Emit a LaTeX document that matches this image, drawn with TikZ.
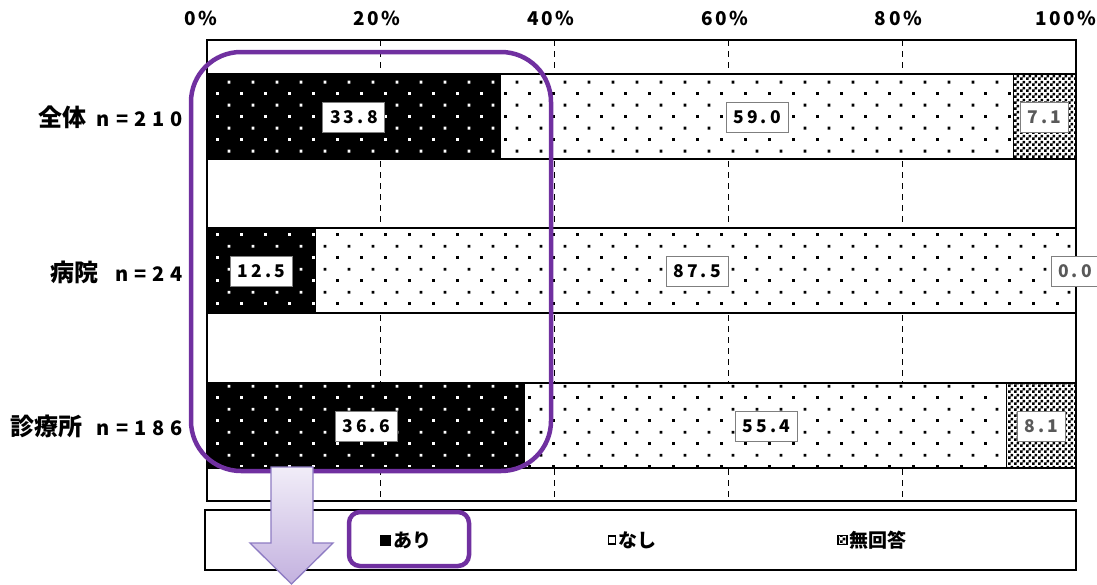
\documentclass[tikz,border=0pt]{standalone}
\usepackage{fontspec}
\usetikzlibrary{patterns}
\setmainfont{Noto Sans CJK JP}
\newfontfamily\axisF{Noto Sans CJK JP}[LetterSpace=14]
\newfontfamily\rowF{Noto Sans CJK JP}[LetterSpace=30]
\newfontfamily\valF{Noto Sans CJK JP}[LetterSpace=18]
\definecolor{hlpurple}{HTML}{7030A0}
\definecolor{arrowedge}{HTML}{8E7CC3}
\definecolor{arrowtop}{HTML}{F1EDF8}
\definecolor{arrowbot}{HTML}{C3B1DF}
\definecolor{lblgray}{HTML}{595959}
\definecolor{boxgray}{HTML}{7F7F7F}
\pgfdeclarepatternformonly{mydots}{\pgfpointorigin}{\pgfqpoint{24pt}{23.34pt}}{\pgfqpoint{24pt}{23.34pt}}{%
  \pgfpathrectangle{\pgfqpoint{0pt}{0pt}}{\pgfqpoint{2.9pt}{2.9pt}}%
  \pgfpathrectangle{\pgfqpoint{12pt}{11.67pt}}{\pgfqpoint{2.9pt}{2.9pt}}%
  \pgfusepath{fill}}
\pgfdeclarepatternformonly{mycheck}{\pgfpointorigin}{\pgfqpoint{6pt}{6pt}}{\pgfqpoint{6pt}{6pt}}{%
  \pgfpathrectangle{\pgfqpoint{0pt}{0pt}}{\pgfqpoint{3pt}{3pt}}%
  \pgfpathrectangle{\pgfqpoint{3pt}{3pt}}{\pgfqpoint{3pt}{3pt}}%
  \pgfusepath{fill}}
\tikzset{
  axl/.style={inner sep=0pt, font=\axisF\bfseries\fontsize{19}{19}\selectfont},
  rowl/.style={anchor=east, inner sep=0pt},
  val/.style={draw=boxgray, fill=white, line width=0.9pt, minimum height=30pt, inner sep=0pt,
    font=\valF\bfseries\fontsize{17.5}{17.5}\selectfont},
  val4/.style={val, minimum width=62pt},
  val3/.style={val, minimum width=48pt, text=lblgray},
  grid/.style={line width=1.1pt, dash pattern=on 6pt off 5pt},
  blackseg/.style={fill=black, postaction={pattern=mydots, pattern color=white}},
  dotseg/.style={fill=white, postaction={pattern=mydots, pattern color=black}},
  chkseg/.style={fill=white, postaction={pattern=mycheck, pattern color=black}},
  barline/.style={line width=1.6pt},
  legtext/.style={anchor=west, inner sep=0pt, font=\bfseries\fontsize{19}{19}\selectfont},
  hlbox/.style={draw=hlpurple, line width=4.5pt},
  cjkrow/.style={font=\bfseries\fontsize{24}{24}\selectfont},
}
\newcommand{\nlab}[1]{{\rowF\bfseries\fontsize{20}{20}\selectfont #1}}
\begin{document}
\begin{tikzpicture}[x=1pt,y=-1pt]
\useasboundingbox (0,0) rectangle (1097,584);
\fill[white] (0,0) rectangle (1097,584);
% axis labels
\node[axl] (a0) at (201,18) {0\%};
\node[axl] (a20) at (377,18) {20\%};
\node[axl] (a40) at (550.8,18) {40\%};
\node[axl] (a60) at (724.6,18) {60\%};
\node[axl] (a80) at (898.4,18) {80\%};
\node[axl] (a100) at (1066,18) {100\%};
% grid
\foreach \gx in {380.8,554.6,728.4,902.2} \draw[grid] (\gx,40) -- (\gx,501);
% bar 1
\path[blackseg] (207,74) rectangle (500.7,159);
\path[dotseg] (500.7,74) rectangle (1013.4,159);
\path[chkseg] (1013.4,74) rectangle (1076,159);
\draw[barline] (207,74) rectangle (1076,159);
\draw[line width=1.2pt] (1013.4,74) -- (1013.4,159);
% bar 2
\path[blackseg] (207,228) rectangle (315.6,313);
\path[dotseg] (315.6,228) rectangle (1076,313);
\draw[barline] (207,228) rectangle (1076,313);
% bar 3
\path[blackseg] (207,383) rectangle (525.1,468);
\path[dotseg] (525.1,383) rectangle (1006.5,468);
\path[chkseg] (1006.5,383) rectangle (1076,468);
\draw[barline] (207,383) rectangle (1076,468);
\draw[line width=1.2pt] (1006.5,383) -- (1006.5,468);
% plot frame
\draw[line width=2pt] (207,40) rectangle (1076,501);
% value labels
\node[val4] (v11) at (353.9,117) {33.8};
\node[val4] (v12) at (757.1,117) {59.0};
\node[val3] (v13) at (1044.7,117) {7.1};
\node[val4] (v21) at (261.3,271) {12.5};
\node[val4] (v22) at (697,271) {87.5};
\node[val3] (v23) at (1075,271) {0.0};
\node[val4] (v31) at (366,426) {36.6};
\node[val4] (v32) at (766.5,426) {55.4};
\node[val3] (v33) at (1041.2,426) {8.1};
% row labels
\node[rowl, cjkrow] (r1) at (183,117) {全体\hspace{10pt}\nlab{n=210}};
\node[rowl, cjkrow] (r2) at (183,272) {病院\hspace{17pt}\nlab{n=24}};
\node[rowl, cjkrow] (r3) at (183,426) {診療所\hspace{14pt}\nlab{n=186}};
% legend
\draw[line width=1.8pt] (205,510) rectangle (1076,570);
\fill[black] (380,534.5) rectangle (391,545.5);
\node[legtext] (l1) at (393,540) {あり};
\draw[line width=1.2pt, fill=white] (608.5,536) rectangle (615.5,544);
\node[legtext] (l2) at (618,540) {なし};
\path[chkseg] (838,535.5) rectangle (847,544.5);
\draw[line width=1.2pt] (838,535.5) rectangle (847,544.5);
\node[legtext] (l3) at (849,540) {無回答};
% highlights
\draw[hlbox, rounded corners=50pt] (191,52) rectangle (551,471);
\draw[hlbox, rounded corners=11pt] (349,512) rectangle (469,566);
% arrow
\path[draw=arrowedge, line width=1.3pt, top color=arrowtop, bottom color=arrowbot]
  (271,467) -- (313,467) -- (313,543) -- (333,543) -- (291.5,584) -- (250,543) -- (271,543) -- cycle;
\end{tikzpicture}
\end{document}
